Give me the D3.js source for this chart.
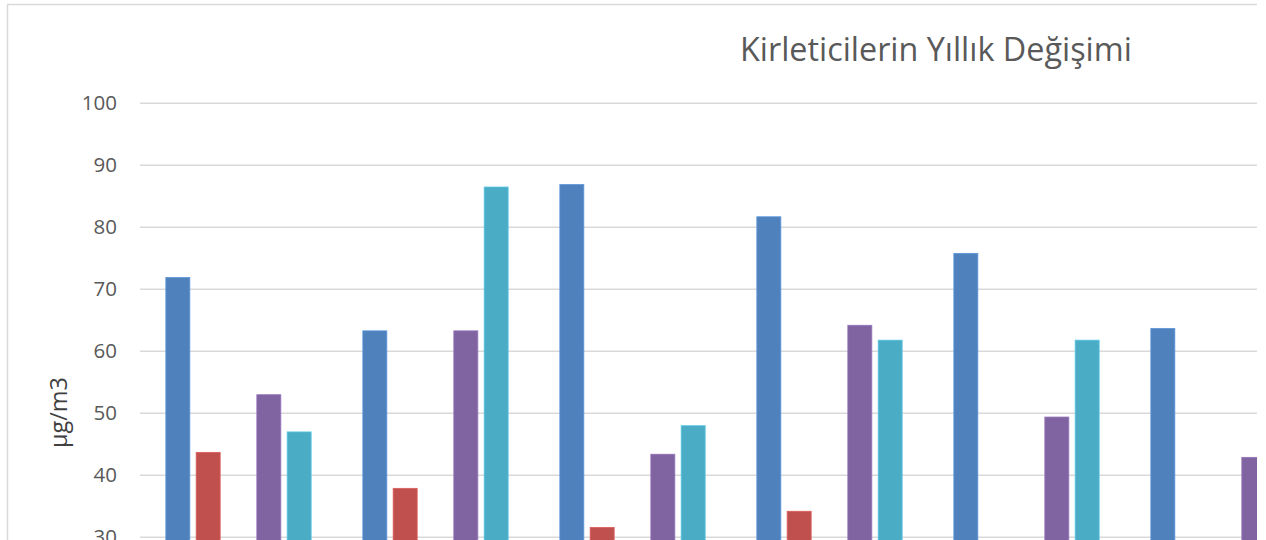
<!DOCTYPE html>
<html>
<head>
<meta charset="utf-8">
<script src="https://cdn.jsdelivr.net/npm/d3@7/dist/d3.min.js"></script>
<style>
  html, body { margin: 0; padding: 0; background: #fff; }
  svg { display: block; }
</style>
</head>
<body>
<svg id="chart" width="1266" height="540"></svg>
<script>
// ---- data ----
const categories = ["1", "2", "3", "4", "5", "6"];
const seriesNames = ["S1", "S2", "S3", "S4", "S5"];
const seriesColors = ["#4F81BD", "#C0504D", "#9BBB59", "#8064A2", "#4BACC6"];
const s1 = [71.8, 63.2, 86.8, 81.6, 75.7, 63.6];
const s2 = [43.6, 37.8, 31.5, 34.1, 24.0, 22.0];
const s3 = [18.0, 17.0, 15.0, 16.0, 14.0, 15.0];
const s4 = [52.9, 63.2, 43.3, 64.1, 49.3, 42.8];
const s5 = [46.9, 86.4, 47.9, 61.7, 61.7, 55.0];
const yTicks = [30, 40, 50, 60, 70, 80, 90, 100];
const titleText = "Kirleticilerin Yıllık Değişimi";
const yLabel = "µg/m3";

const seriesValues = [s1, s2, s3, s4, s5];

// ---- layout ----
const svg = d3.select("#chart");
const plotLeft = 140, plotRight = 1257;
const catStep = 197;

const x0 = d3.scaleBand()
  .domain(categories)
  .range([plotLeft, plotLeft + catStep * categories.length])
  .padding(0);

const x1 = d3.scaleBand()
  .domain(seriesNames)
  .range([0, x0.bandwidth()])
  .paddingInner(0.209)
  .paddingOuter(0.852);

const y = d3.scaleLinear().domain([0, 100]).range([722.7, 102.7]);

// outer border (cropped chart frame)
svg.append("line").attr("x1", 7).attr("x2", 1257).attr("y1", 4.5).attr("y2", 4.5)
  .attr("stroke", "#d9d9d9").attr("stroke-width", 1.5);
svg.append("line").attr("x1", 7.5).attr("x2", 7.5).attr("y1", 4).attr("y2", 540)
  .attr("stroke", "#d9d9d9").attr("stroke-width", 1.5);

// clip
svg.append("defs").append("clipPath").attr("id", "plotclip")
  .append("rect").attr("x", plotLeft - 2).attr("y", 0)
  .attr("width", plotRight - plotLeft + 2).attr("height", 540);

// y axis with gridlines
const yAxis = d3.axisLeft(y).tickValues(yTicks)
  .tickSize(-(plotRight - plotLeft)).tickPadding(23);
const gAxis = svg.append("g").attr("transform", `translate(${plotLeft},0)`).call(yAxis);
gAxis.select(".domain").remove();
gAxis.selectAll(".tick line").attr("stroke", "#d9d9d9").attr("stroke-width", 1.5);
gAxis.selectAll(".tick text")
  .attr("fill", "#595959")
  .style("font-family", "'Open Sans', sans-serif")
  .style("font-size", "20.5px");

// bars
const gBars = svg.append("g").attr("clip-path", "url(#plotclip)");
const groups = gBars.selectAll("g.cat")
  .data(categories)
  .join("g").attr("class", "cat")
  .attr("transform", d => `translate(${x0(d)},0)`);

groups.selectAll("rect")
  .data((c, ci) => seriesNames.map((s, si) => ({ s, si, v: seriesValues[si][ci] })))
  .join("rect")
  .attr("x", d => x1(d.s))
  .attr("width", x1.bandwidth())
  .attr("y", d => y(d.v))
  .attr("height", d => y(0) - y(d.v))
  .attr("fill", d => seriesColors[d.si])
  .attr("stroke", d => d3.color(seriesColors[d.si]).brighter(0.4))
  .attr("stroke-width", 0.8);

// y label
const yl = svg.append("text")
  .attr("transform", "translate(67,412.5) rotate(-90)")
  .attr("text-anchor", "middle")
  .attr("fill", "#404040")
  .style("font-family", "'Open Sans', sans-serif")
  .style("font-size", "24px")
  .text(yLabel);
const ylLen = yl.node().getComputedTextLength();
yl.style("font-size", (24 * 71 / ylLen) + "px");

// title
const t = svg.append("text")
  .attr("x", 740).attr("y", 61)
  .attr("fill", "#595959")
  .style("font-family", "'Open Sans', sans-serif")
  .style("font-size", "28px")
  .text(titleText);
const len = t.node().getComputedTextLength();
t.style("font-size", (28 * 392 / len) + "px");
</script>
</body>
</html>
